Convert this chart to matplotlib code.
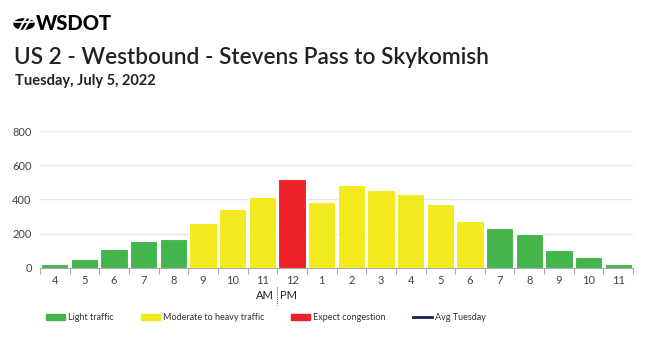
import matplotlib.pyplot as plt
import matplotlib.patches as mpatches
from matplotlib.lines import Line2D
import numpy as np

plt.rcParams['font.family'] = ['Lato', 'DejaVu Sans']

# donnees
heures = ['4', '5', '6', '7', '8', '9', '10', '11', '12', '1',
          '2', '3', '4', '5', '6', '7', '8', '9', '10', '11']
volumes = [22, 51, 109, 154, 168, 262, 343, 415, 517, 386,
           482, 453, 431, 373, 271, 234, 199, 104, 61, 22]
niveaux = ['light', 'light', 'light', 'light', 'light', 'moderate', 'moderate', 'moderate', 'heavy', 'moderate',
           'moderate', 'moderate', 'moderate', 'moderate', 'moderate', 'light', 'light', 'light', 'light', 'light']

couleurs = {'light': '#43b54b', 'moderate': '#f2ea1c', 'heavy': '#ee2028'}
navy = '#1b1f5e'

fig = plt.figure(figsize=(6.5, 3.37), dpi=100)
ax = fig.add_axes([0.0615, 0.2056, 0.9125, 0.4054])

x = np.arange(len(volumes))
ax.bar(x, volumes, width=0.92, color=[couleurs[n] for n in niveaux],
       edgecolor='white', linewidth=0.8, zorder=3)

ax.set_xlim(-0.5, len(volumes) - 0.5)
ax.set_ylim(0, 800)
ax.set_yticks([0, 200, 400, 600, 800])
ax.yaxis.grid(True, color='#e6e6e6', linewidth=1, zorder=0)
ax.tick_params(axis='y', length=0, labelsize=8, labelcolor='#444444', pad=6)

# ticks entre les barres, etiquettes au centre
ax.set_xticks(np.arange(-0.5, len(volumes), 1))
ax.set_xticklabels([])
ax.set_xticks(x, minor=True)
ax.set_xticklabels(heures, minor=True)
ax.tick_params(axis='x', which='major', length=4, color='#aaaaaa')
ax.tick_params(axis='x', which='minor', length=0, labelsize=8, labelcolor='#444444', pad=5)

for s in ['left', 'right', 'top']:
    ax.spines[s].set_visible(False)
ax.spines['bottom'].set_color('#aaaaaa')

# AM | PM
ax.text(7.4, -0.205, 'AM', transform=ax.get_xaxis_transform(), ha='right', va='center',
        fontsize=8, color='#222222')
ax.text(7.6, -0.205, 'PM', transform=ax.get_xaxis_transform(), ha='left', va='center',
        fontsize=8, color='#222222')
ax.plot([7.5, 7.5], [-0.14, -0.27], transform=ax.get_xaxis_transform(), clip_on=False,
        color='#555555', linewidth=0.7, linestyle=(0, (1, 1)))

# titres et logo
logo = mpatches.Circle((24 / 650, 1 - 24 / 337), 10 / 650, transform=fig.transFigure,
                       color='black')
fig.patches.append(logo)
fig.add_artist(Line2D([18 / 650, 27 / 650], [1 - 32 / 337, 1 - 16 / 337], color='white', linewidth=1.5))
fig.add_artist(Line2D([23 / 650, 32 / 650], [1 - 32 / 337, 1 - 16 / 337], color='white', linewidth=1.5))
fig.add_artist(Line2D([15 / 650, 33 / 650], [1 - 22 / 337, 1 - 22 / 337], color='white', linewidth=1.2))
fig.text(36 / 650, 1 - 24 / 337, 'WSDOT', fontsize=14.5, fontweight='black', va='center', color='black')
fig.text(14 / 650, 1 - 57 / 337, 'US 2 - Westbound - Stevens Pass to Skykomish', fontsize=16.3,
         fontweight='semibold', va='center', color='#222222')
fig.text(15 / 650, 1 - 81 / 337, 'Tuesday, July 5, 2022', fontsize=10.5, fontweight='bold',
         va='center', color='#222222')

# legende
handles = [
    mpatches.Patch(color=couleurs['light'], label='Light traffic'),
    mpatches.Patch(color=couleurs['moderate'], label='Moderate to heavy traffic'),
    mpatches.Patch(color=couleurs['heavy'], label='Expect congestion'),
    Line2D([0], [0], color=navy, linewidth=2, label='Avg Tuesday'),
]
fig.legend(handles=handles, loc='center', bbox_to_anchor=(266 / 650, 1 - 318 / 337), ncol=4,
           frameon=False, fontsize=6.5, handlelength=2.1, handleheight=0.6,
           columnspacing=3.0, handletextpad=0.35, labelcolor='#333333')

fig.savefig('out.png', dpi=100)
